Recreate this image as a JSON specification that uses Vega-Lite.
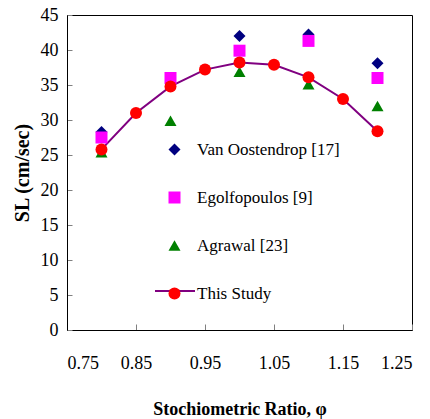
{
  "$schema": "https://vega.github.io/schema/vega-lite/v6.json",
  "width": 345,
  "height": 315,
  "autosize": {"type": "none"},
  "padding": {"left": 67, "top": 15, "right": 18, "bottom": 89},
  "config": {
    "font": "Liberation Serif",
    "view": {"stroke": "black", "strokeWidth": 1},
    "style": {"guide-label": {"font": "Liberation Serif", "fontSize": 17, "fill": "black"}, "guide-title": {"font": "Liberation Serif"}},
    "axis": {"grid": false, "domainColor": "black", "tickColor": "#808080", "labelColor": "black", "titleColor": "black", "labelFont": "Liberation Serif", "titleFont": "Liberation Serif"},
    "legend": {"labelFont": "Liberation Serif", "labelFontSize": 17, "labelColor": "black", "padding": 0, "rowPadding": 30, "labelOffset": 14}
  },
  "data": {
    "values": [
      {"series": "Van Oostendrop [17]", "phi": 0.8, "sl": 28.3},
      {"series": "Van Oostendrop [17]", "phi": 1.0, "sl": 42.0},
      {"series": "Van Oostendrop [17]", "phi": 1.1, "sl": 42.2},
      {"series": "Van Oostendrop [17]", "phi": 1.2, "sl": 38.1},
      {"series": "Egolfopoulos [9]", "phi": 0.8, "sl": 27.5},
      {"series": "Egolfopoulos [9]", "phi": 0.9, "sl": 36.0},
      {"series": "Egolfopoulos [9]", "phi": 1.0, "sl": 39.9},
      {"series": "Egolfopoulos [9]", "phi": 1.1, "sl": 41.3},
      {"series": "Egolfopoulos [9]", "phi": 1.2, "sl": 36.0},
      {"series": "Agrawal [23]", "phi": 0.8, "sl": 25.4},
      {"series": "Agrawal [23]", "phi": 0.9, "sl": 29.9},
      {"series": "Agrawal [23]", "phi": 1.0, "sl": 36.9},
      {"series": "Agrawal [23]", "phi": 1.1, "sl": 35.1},
      {"series": "Agrawal [23]", "phi": 1.2, "sl": 32.0},
      {"series": "This Study", "phi": 0.8, "sl": 25.8},
      {"series": "This Study", "phi": 0.85, "sl": 31.0},
      {"series": "This Study", "phi": 0.9, "sl": 34.8},
      {"series": "This Study", "phi": 0.95, "sl": 37.2},
      {"series": "This Study", "phi": 1.0, "sl": 38.2},
      {"series": "This Study", "phi": 1.05, "sl": 37.9},
      {"series": "This Study", "phi": 1.1, "sl": 36.1},
      {"series": "This Study", "phi": 1.15, "sl": 33.0},
      {"series": "This Study", "phi": 1.2, "sl": 28.4}
    ]
  },
  "encoding": {
    "x": {"field": "phi", "type": "quantitative", "scale": {"domain": [0.75, 1.25], "nice": false, "zero": false},
      "axis": {"title": "Stochiometric Ratio, φ", "values": [0.75, 0.85, 0.95, 1.05, 1.15, 1.25], "format": ".2f", "tickSize": -6, "labelFontSize": 18, "labelPadding": 30, "titleFontSize": 18, "titleFontWeight": "bold", "titlePadding": 28}},
    "y": {"field": "sl", "type": "quantitative", "scale": {"domain": [0, 45], "nice": false},
      "axis": {"title": "SL (cm/sec)", "values": [0, 5, 10, 15, 20, 25, 30, 35, 40, 45], "tickSize": -5, "labelFontSize": 18, "labelPadding": 14, "titleFontSize": 20, "titleFontWeight": "bold", "titlePadding": 8}}
  },
  "layer": [
    {
      "transform": [{"filter": "datum.series === 'This Study'"}],
      "mark": {"type": "line", "strokeWidth": 2},
      "encoding": {
        "stroke": {"field": "series", "type": "nominal", "scale": {"domain": ["This Study"], "range": ["#800080"]},
          "legend": {"orient": "none", "legendX": 87, "legendY": 255, "title": null, "symbolType": "stroke", "symbolSize": 1600, "symbolStrokeWidth": 2, "labelExpr": "''", "padding": 0}}
      }
    },
    {
      "mark": {"type": "point", "filled": true, "opacity": 1, "strokeWidth": 0},
      "encoding": {
        "color": {"field": "series", "type": "nominal", "scale": {"domain": ["Van Oostendrop [17]", "Egolfopoulos [9]", "Agrawal [23]", "This Study"], "range": ["#000080", "#FF00FF", "#008000", "#FF0000"]},
          "legend": {"orient": "none", "legendX": 99, "legendY": 126, "title": null, "labelFontSize": 17, "labelFont": "Liberation Serif", "rowPadding": 30, "labelOffset": 14, "padding": 0, "symbolStrokeWidth": 0}},
        "shape": {"field": "series", "type": "nominal", "scale": {"domain": ["Van Oostendrop [17]", "Egolfopoulos [9]", "Agrawal [23]", "This Study"], "range": ["diamond", "square", "triangle-up", "circle"]},
          "legend": {"orient": "none", "legendX": 99, "legendY": 126, "title": null, "labelFontSize": 17, "labelFont": "Liberation Serif", "rowPadding": 30, "labelOffset": 14, "padding": 0, "symbolStrokeWidth": 0}},
        "size": {"field": "series", "type": "nominal", "scale": {"domain": ["Van Oostendrop [17]", "Egolfopoulos [9]", "Agrawal [23]", "This Study"], "range": [144, 144, 130, 121]},
          "legend": {"orient": "none", "legendX": 99, "legendY": 126, "title": null, "labelFontSize": 17, "labelFont": "Liberation Serif", "rowPadding": 30, "labelOffset": 14, "padding": 0, "symbolStrokeWidth": 0}}
      }
    }
  ]
}
